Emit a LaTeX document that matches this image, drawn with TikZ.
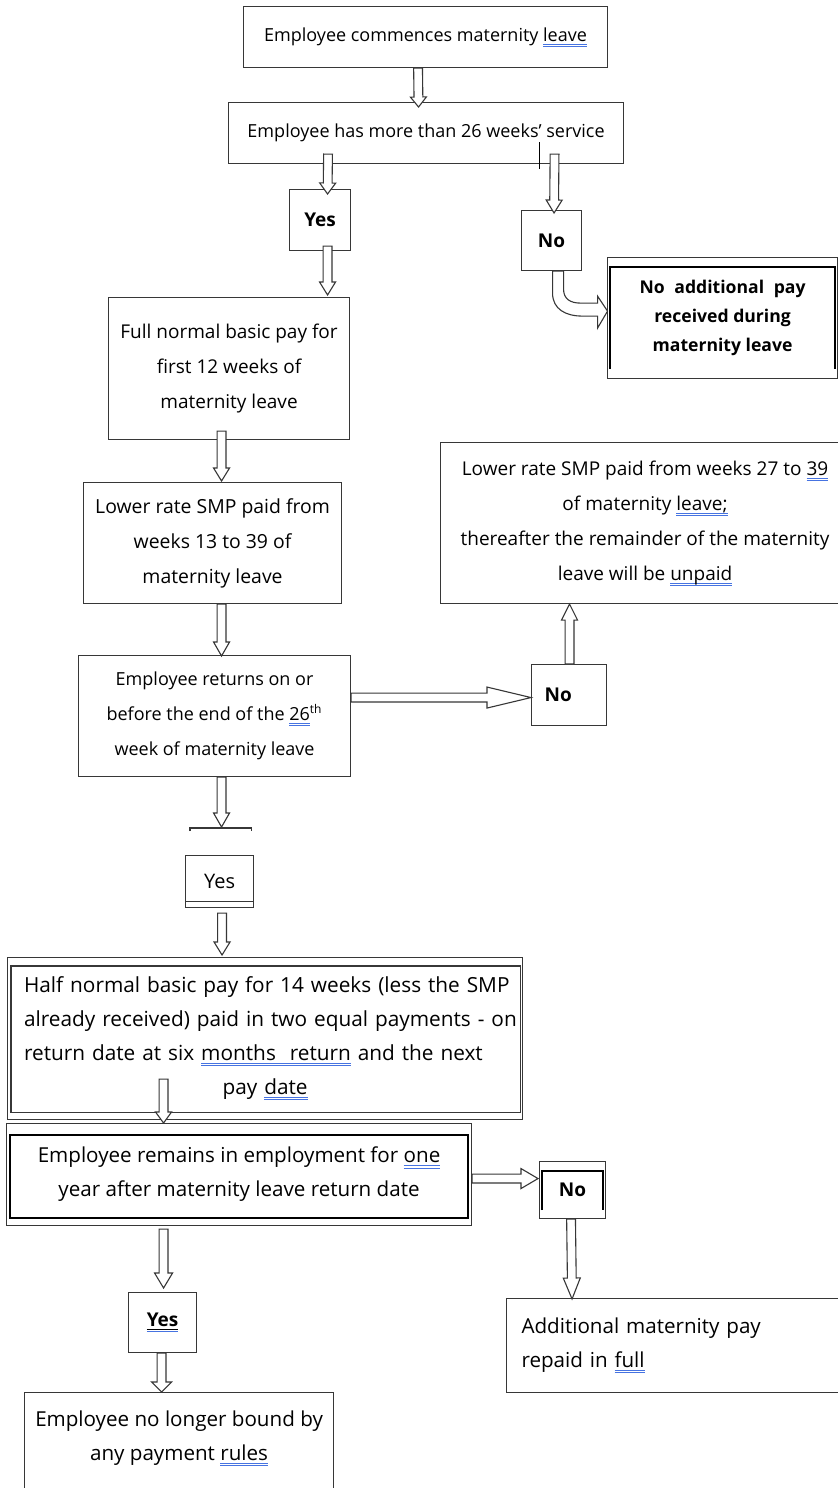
\documentclass[tikz,border=0pt]{standalone}
\usepackage{fontspec}
\setmainfont{Open Sans}
\usetikzlibrary{calc}
\definecolor{lc}{RGB}{55,55,55}
\definecolor{splblue}{RGB}{70,115,225}
\newsavebox\splbox
\newcommand\spl[1]{\sbox\splbox{#1}\rlap{\color{splblue}\raisebox{-1.7pt}{\rule{\wd\splbox}{0.45pt}}}\rlap{\color{splblue}\raisebox{-2.8pt}{\rule{\wd\splbox}{0.45pt}}}\usebox\splbox}
% block arrow: #1 head length, #2 head half width, #3 start, #4 tip
\newcommand\barrow[4]{%
  \path #3 coordinate (bS) #4 coordinate (bT);
  \draw[blk] ($(bS)!2.2pt!90:(bT)$) -- ($(bT)!#1!(bS)!2.2pt!-90:(bS)$) -- ($(bT)!#1!(bS)!#2!-90:(bS)$) -- (bT)
    -- ($(bT)!#1!(bS)!#2!90:(bS)$) -- ($(bT)!#1!(bS)!2.2pt!90:(bS)$) -- ($(bS)!2.2pt!-90:(bT)$) -- cycle;}
\tikzset{
  box/.style={draw=lc, line width=0.55pt, fill=white, inner sep=2pt, align=center, anchor=north west},
  fu/.style={font=\fontsize{9}{17.5}\selectfont},
  fl/.style={font=\fontsize{10.3}{17}\selectfont},
  fb/.style={font=\fontsize{9.5}{12}\selectfont\bfseries},
  blk/.style={draw=lc, line width=0.55pt, fill=white, line join=miter},
  thickin/.style={draw=black, line width=1.1pt},
  thinin/.style={draw=lc, line width=0.55pt}
}
\begin{document}
\begin{tikzpicture}[x=0.5pt,y=-0.5pt]
\useasboundingbox (0,0) rectangle (838,1488);
\fill[white] (0,0) rectangle (838,1488);

% boxes
\node[box, fu, minimum width=182pt, minimum height=30.5pt] (A) at (243,6) {Employee commences maternity \spl{leave}};
\node[box, fu, minimum width=197.5pt, minimum height=30.5pt] (B) at (228,102) {Employee has more than 26 weeks’ service};
\node[box, fb, minimum width=30.5pt, minimum height=30.5pt] (Yes1) at (289,189) {Yes};
\node[box, fb, minimum width=30pt, minimum height=30pt] (No1) at (521,210) {No};
\node[box, font=\fontsize{8.8}{14.5}\selectfont\bfseries, minimum width=115pt, minimum height=60.5pt] (NoAdd) at (607,257)
  {No\hspace{0.55em}additional\hspace{0.55em}pay\\received during\\maternity leave};
\node[box, font=\fontsize{9.5}{17.5}\selectfont, minimum width=120.5pt, minimum height=71pt] (Full) at (108,297)
  {Full normal basic pay for\\first 12 weeks of\\maternity leave};
\node[box, font=\fontsize{9.7}{17.5}\selectfont, minimum width=129pt, minimum height=60.5pt] (Lower) at (83,482)
  {Lower rate SMP paid from\\weeks 13 to 39 of\\maternity leave};
\node[box, font=\fontsize{9.5}{17.5}\selectfont, minimum width=204.5pt, minimum height=80.5pt] (Lower27) at (440,442)
  {Lower rate SMP paid from weeks 27 to \spl{39}\\of maternity \spl{leave;}\\thereafter the remainder of the maternity\\leave will be \spl{unpaid}};
\node[box, fu, minimum width=136pt, minimum height=60.5pt] (Returns) at (78,655)
  {Employee returns on or\\before the end of the \spl{26}\textsuperscript{th}\\week of maternity leave};
\node[box, fb, text width=24.5pt, inner xsep=6.5pt, align=left, minimum height=30.5pt] (No2) at (531,664) {No};
\node[box, font=\fontsize{10}{12}\selectfont, minimum width=34pt, minimum height=26pt] (Yes2) at (185,855) {Yes};
\node[box, font=\fontsize{10.4}{17}\selectfont, text width=241pt, inner xsep=8.25pt, align=left, minimum height=81pt] (Half) at (7,957)
  {\mbox{Half normal basic pay for 14 weeks (less the SMP}\\\mbox{already received) paid in two equal payments - on}\\\mbox{return date at six \spl{months\ \ return} and the next}\\\makebox[241pt]{pay \spl{date}}};
\node[box, fl, minimum width=232.5pt, minimum height=51pt] (Remains) at (6,1123)
  {Employee remains in employment for \spl{one}\\year after maternity leave return date};
\node[box, fb, minimum width=33pt, minimum height=28.5pt] (No3) at (539,1161) {No};
\node[box, fl, text width=158pt, inner xsep=7.5pt, align=left, minimum height=47pt] (Add) at (506,1298)
  {Additional maternity pay\\repaid in \spl{full}\\[-4pt]};
\node[box, fb, minimum width=34pt, minimum height=30pt] (Yes3) at (128,1292) {\spl{\underline{Yes}}};
\node[box, fl, minimum width=154.5pt, minimum height=60pt] (Final) at (24,1392)
  {Employee no longer bound by\\any payment \spl{rules}\\\mbox{}};

% inner frames and extra lines
\draw[thinin] ([shift={(4,9)}]Half.north west) rectangle ([shift={(-3,-8)}]Half.south east);
\draw[thickin] ([shift={(4,12)}]Remains.north west) rectangle ([shift={(-4,-8)}]Remains.south east);
\draw[thickin] ([shift={(3,49)}]No3.north west) -- ([shift={(3,10)}]No3.north west) -- ([shift={(-3,10)}]No3.north east) -- ([shift={(-3,49)}]No3.north east);
\draw[thickin] ([shift={(3,112)}]NoAdd.north west) -- ([shift={(3,10)}]NoAdd.north west) -- ([shift={(-3,10)}]NoAdd.north east) -- ([shift={(-3,112)}]NoAdd.north east);
\draw[thinin] ([shift={(0,-7)}]Yes2.south west) -- ([shift={(0,-7)}]Yes2.south east);
\draw[thinin] ([shift={(5,-24)}]Yes2.north west) -- ([shift={(5,-27)}]Yes2.north west) -- ([shift={(-3,-27)}]Yes2.north east) -- ([shift={(-3,-24)}]Yes2.north east);
\draw[black, line width=0.5pt] (539,142) -- (539,169);

% connectors
\barrow{5pt}{4pt}{($(A.south)+(-7.5,0)$)}{($(B.north)+(-7.5,5)$)}
\barrow{5.5pt}{4pt}{($(B.south)+(-98,-10)$)}{($(Yes1.north)+(7.5,5)$)}
\barrow{6.5pt}{4pt}{($(B.south)+(128.5,-10)$)}{($(No1.north)+(2.5,3)$)}
\draw[blk, shift={(No1.south)}] (1,0) -- (1,22) .. controls (1,38) and (14,45) .. (31,45) -- (46,45) -- (46,57) -- (56,40) -- (46,25) -- (46,32) -- (29,32) .. controls (19,32) and (12,28) .. (12,18) -- (12,0) -- cycle;
\barrow{6.5pt}{4pt}{($(Yes1.south)+(7.5,-5)$)}{($(Full.north)+(98.5,-2)$)}
\barrow{6.5pt}{4pt}{($(Full.south)+(-7.5,-9)$)}{($(Lower.north)+(9,-1)$)}
\barrow{7pt}{4pt}{($(Lower.south)+(9,0)$)}{($(Returns.north)+(7,1)$)}
\barrow{22pt}{5.25pt}{($(Returns.east)+(0,-18.5)$)}{($(No2.west)+(0,2.5)$)}
\barrow{8pt}{4pt}{($(No2.north)+(0.5,0)$)}{($(Lower27.south)+(-75.5,0)$)}
\barrow{7pt}{4pt}{($(Returns.south)+(7,0)$)}{($(Yes2.north)+(2,-28)$)}
\barrow{6.5pt}{4pt}{($(Yes2.south)+(2.5,5)$)}{($(Half.north)+(-43,-2)$)}
\barrow{5.5pt}{4pt}{($(Half.south)+(-101.5,-41)$)}{($(Remains.north)+(-75.5,0)$)}
\barrow{8.5pt}{5pt}{($(Remains.east)+(0,4)$)}{($(No3.west)+(-1,-11.5)$)}
\barrow{10.5pt}{4.25pt}{($(No3.south)+(-1.5,0)$)}{($(Add.north)+(-107.5,1)$)}
\barrow{7.5pt}{4.5pt}{($(Remains.south)+(-75.5,3)$)}{($(Yes3.north)+(1,-4)$)}
\barrow{5pt}{5pt}{($(Yes3.south)+(-1,0)$)}{($(Final.north)+(-17.5,0)$)}
\end{tikzpicture}
\end{document}
